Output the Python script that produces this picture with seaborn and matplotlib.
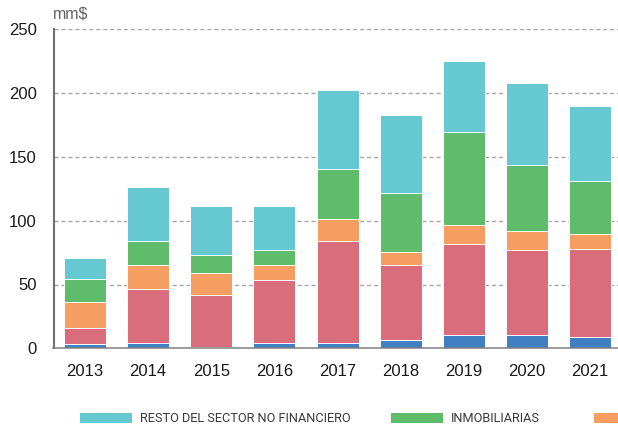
import matplotlib
matplotlib.use("Agg")
import matplotlib.pyplot as plt
import seaborn as sns
import numpy as np
import pandas as pd

years = ["2013", "2014", "2015", "2016", "2017", "2018", "2019", "2020", "2021"]

# stacked series (bottom to top), values in mm$
s_blue = [3.1, 4.4, 1.0, 4.4, 3.9, 6.3, 10.7, 10.7, 9.1]
s_red = [13.1, 41.8, 40.5, 49.1, 80.4, 59.2, 71.3, 66.6, 68.9]
s_orange = [19.8, 19.1, 17.7, 11.5, 17.0, 10.0, 14.6, 14.6, 11.6]
s_green = [18.5, 18.6, 13.7, 11.8, 39.2, 46.0, 72.7, 51.5, 41.8]
s_cyan = [16.5, 42.7, 38.6, 34.5, 61.9, 61.3, 55.6, 64.8, 58.6]

# legend labels as visible in the picture (the third entry is cut off at the edge)
legend_labels = ["RESTO DEL SECTOR NO FINANCIERO", "INMOBILIARIAS", ""]
yticks = [0, 50, 100, 150, 200, 250]
ylabel = "mm$"

colors = {"cyan": "#66C9D2", "green": "#5EBC6B", "orange": "#F69E62",
          "red": "#D96D7B", "blue": "#3F7FC2"}

sns.set_theme(style="white")
plt.rcParams["font.family"] = ["Liberation Sans", "DejaVu Sans"]

fig = plt.figure(figsize=(6.18, 4.29), dpi=100)
ax = fig.add_axes([53.5 / 618, 80.7 / 429, (621.6 - 53.5) / 618, 319.0 / 429])

stack = [("blue", s_blue), ("red", s_red), ("orange", s_orange),
         ("green", s_green), ("cyan", s_cyan)]

bottom = np.zeros(len(years))
for key, vals in stack:
    df = pd.DataFrame({"year": years, "value": vals})
    sns.barplot(data=df, x="year", y="value", bottom=bottom, color=colors[key],
                width=0.665, edgecolor="white", linewidth=0.7, errorbar=None,
                saturation=1, ax=ax)
    bottom = bottom + np.array(vals)

ax.set_xlim(-0.5, 8.5)
ax.set_ylim(0, 250)
ax.set_yticks(yticks)
ax.set_xlabel("")
ax.set_ylabel("")

for yv in yticks[1:]:
    ax.axhline(yv, color="#a8a8a8", linewidth=1.0, linestyle=(0, (3, 2)), zorder=0)

for s in ["top", "right"]:
    ax.spines[s].set_visible(False)
ax.spines["left"].set_color("#707070")
ax.spines["left"].set_linewidth(1.5)
ax.spines["bottom"].set_color("#808080")
ax.spines["bottom"].set_linewidth(1.1)

ax.tick_params(axis="y", length=0, pad=12, labelsize=12, labelcolor="#1a1a1a")
ax.tick_params(axis="x", which="major", length=0, pad=11.5, labelsize=12, labelcolor="#1a1a1a")
ax.set_xticks(np.arange(0.5, 8.0, 1.0), minor=True)
ax.tick_params(axis="x", which="minor", direction="in", length=4, width=1, color="#808080")

fig.text(53 / 618, 1 - 14 / 429, ylabel, fontsize=11.5, color="#606060", va="center", ha="left")

# legend entries, each placed where it sits in the reference
legend_x = [80, 391, 594]
for key, label, lx in zip(["cyan", "green", "orange"], legend_labels, legend_x):
    h = plt.Rectangle((0, 0), 1, 1, facecolor=colors[key], edgecolor="none")
    leg = fig.legend([h], [label], loc="center left",
                     bbox_to_anchor=(lx / 618, 1 - 419 / 429), frameon=False,
                     prop={"family": ["Roboto", "DejaVu Sans"], "size": 9.2},
                     handlelength=4.08, handleheight=0.72, handletextpad=0.58,
                     borderpad=0, borderaxespad=0)
    for t in leg.get_texts():
        t.set_color("#3a3a3a")

fig.savefig("out.png", dpi=100)
